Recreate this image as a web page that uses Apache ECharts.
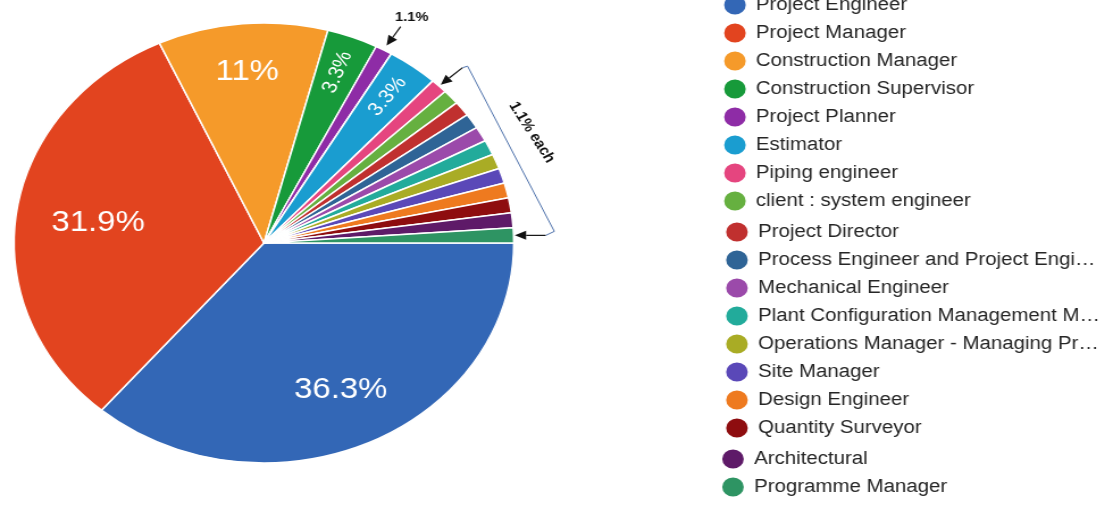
<!DOCTYPE html>
<html>
<head>
<meta charset="utf-8">
<script src="https://cdn.jsdelivr.net/npm/echarts@6/dist/echarts.min.js"></script>
<style>
  html, body { margin: 0; padding: 0; background: #fff; overflow: hidden; }
  #wrap { width: 1105px; height: 517px; overflow: hidden; }
  /* the chart is laid out narrower and widened, so the pie reads as an oval */
  #chart { width: 973px; height: 517px; transform: scaleX(1.1357); transform-origin: 0 0; }
</style>
</head>
<body>
<div id="wrap"><div id="chart"></div></div>
<script>
// Job roles of respondents and their share of the sample (%)
const roles = [
  'Project Engineer',
  'Project Manager',
  'Construction Manager',
  'Construction Supervisor',
  'Project Planner',
  'Estimator',
  'Piping engineer',
  'client : system engineer',
  'Project Director',
  'Process Engineer and Project Engi\u2026',
  'Mechanical Engineer',
  'Plant Configuration Management M\u2026',
  'Operations Manager - Managing Pr\u2026',
  'Site Manager',
  'Design Engineer',
  'Quantity Surveyor',
  'Architectural',
  'Programme Manager'
];
const shares = [36.3, 31.9, 11, 3.3, 1.1, 3.3, 1.1, 1.1, 1.1, 1.1, 1.1, 1.1, 1.1, 1.1, 1.1, 1.1, 1.1, 1.1];
const sliceColors = [
  '#3367b6', '#e2441f', '#f59a2a', '#179a3a', '#8e2ca6', '#1a9dd0',
  '#e5457f', '#66b040', '#c0302f', '#2f6496', '#9b4aaa', '#22ab9b',
  '#a9ac25', '#5a48b8', '#ee7a1f', '#8e0d0f', '#5e1a68', '#2e9463'
];
// legend columns are split into three blocks
const legendBlocks = [[0, 8], [8, 16], [16, 18]];
// call-outs: single 1.1% slice, and the run of 1.1% slices
const singleNote = '1.1%';
const groupNote = '1.1% each';

const CENTER = [232.4, 243];
const R = 220;
const FONT = 'Arial, "Liberation Sans", sans-serif';

// where each printed share sits: fraction of the radius, flat or along the radius
const labelRings = [
  { names: ['Project Engineer'], at: 0.735, rotate: 0, size: 29 },
  { names: ['Project Manager'], at: 0.67, rotate: 0, size: 29 },
  { names: ['Construction Manager'], at: 0.78, rotate: 0, size: 29 },
  { names: ['Construction Supervisor', 'Estimator'], at: 0.83, rotate: 'radial', size: 19 }
];

const chart = echarts.init(document.getElementById('chart'), null, { renderer: 'canvas' });

const total = shares.reduce((a, b) => a + b, 0);
function sliceMidAngle(i) {
  let acc = 0;
  for (let k = 0; k < i; k++) acc += shares[k];
  return (acc + shares[i] / 2) / total * Math.PI * 2;
}
function rimPoint(i, gap) {
  const a = sliceMidAngle(i);
  return [CENTER[0] + (R + gap) * Math.cos(a), CENTER[1] + (R + gap) * Math.sin(a)];
}
function arrow(tail, tip) {
  const dx = tip[0] - tail[0], dy = tip[1] - tail[1];
  const len = Math.hypot(dx, dy);
  const ux = dx / len, uy = dy / len;
  const hl = 10, hw = 4.5;
  const bx = tip[0] - ux * hl, by = tip[1] - uy * hl;
  return [
    { type: 'line', silent: true, shape: { x1: tail[0], y1: tail[1], x2: bx, y2: by },
      style: { stroke: '#111', lineWidth: 1.2 } },
    { type: 'polygon', silent: true,
      shape: { points: [tip, [bx - uy * hw, by + ux * hw], [bx + uy * hw, by - ux * hw]] },
      style: { fill: '#111' } }
  ];
}

// transparent copy of the pie that only carries labels; an "inside" label
// sits halfway out, so the ring is twice the wanted label radius
function labelRing(ring) {
  return {
    type: 'pie', center: CENTER, radius: [0, 2 * (ring.at * R - 3)],
    startAngle: 0, clockwise: true, silent: true, z: 3, animation: false,
    itemStyle: { color: 'rgba(0,0,0,0)', borderWidth: 0 },
    label: { show: false }, labelLine: { show: false },
    emphasis: { disabled: true },
    data: roles.map((n, i) => ({
      name: n, value: shares[i],
      label: ring.names.includes(n)
        ? { show: true, position: 'inside', rotate: ring.rotate, formatter: '{c}%',
            color: '#fff', fontSize: ring.size, fontFamily: FONT }
        : { show: false }
    }))
  };
}

// call-out geometry
const tipSingle = rimPoint(4, 5);
const tipFirst = rimPoint(6, 2);
const tipLast = rimPoint(17, 1);
const tailSingle = [tipSingle[0] + 12.4, tipSingle[1] - 19];
const tailFirst = [tipFirst[0] + 19.3, tipFirst[1] - 17];
const tailLast = [tipLast[0] + 27.3, tipLast[1]];
const bracket = [tailFirst, [tailFirst[0] + 4.4, tailFirst[1] - 1.5],
                 [tailLast[0] + 7.5, tailLast[1] - 4], tailLast];

const graphics = [].concat(
  arrow(tailSingle, tipSingle),
  arrow(tailFirst, tipFirst),
  arrow(tailLast, tipLast),
  [
    { type: 'polyline', silent: true, shape: { points: bracket },
      style: { stroke: '#5174ad', lineWidth: 1, fill: null } },
    { type: 'text', silent: true, x: tailSingle[0] + 9.7, y: tailSingle[1] - 9,
      style: { text: singleNote, font: 'bold 13px ' + FONT, fill: '#111',
               align: 'center', verticalAlign: 'middle', textAlign: 'center', textVerticalAlign: 'middle' } },
    { type: 'text', silent: true, x: 468.3, y: 132.5, rotation: -60 * Math.PI / 180,
      style: { text: groupNote, font: 'bold 14px ' + FONT, fill: '#111',
               align: 'center', verticalAlign: 'middle', textAlign: 'center', textVerticalAlign: 'middle' } }
  ]
);

const legendLeft = [635.6, 637.4, 633.9];
const legendTop = [-6.5, 220.5, 447.5];

const option = {
  backgroundColor: '#fff',
  animation: false,
  legend: legendBlocks.map(([a, b], k) => ({
    orient: 'vertical', left: legendLeft[k], top: legendTop[k], padding: 0,
    itemGap: 5, itemWidth: 21, itemHeight: 21, icon: 'circle', selectedMode: false,
    data: roles.slice(a, b),
    textStyle: { fontSize: 18, color: '#262626', lineHeight: 18, padding: [0, 0, 0, 3],
                 fontFamily: FONT }
  })),
  graphic: { elements: graphics },
  series: [
    {
      type: 'pie', name: 'Roles', center: CENTER, radius: [0, R],
      startAngle: 0, clockwise: true, animation: false,
      itemStyle: { borderColor: '#fff', borderWidth: 1.5 },
      label: { show: false }, labelLine: { show: false },
      emphasis: { disabled: true },
      data: roles.map((n, i) => ({ name: n, value: shares[i], itemStyle: { color: sliceColors[i] } }))
    }
  ].concat(labelRings.map(labelRing))
};
chart.setOption(option);
</script>
</body>
</html>
